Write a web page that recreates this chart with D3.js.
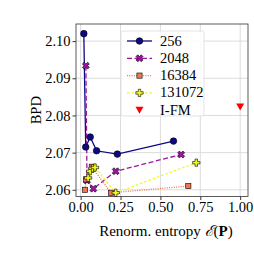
<!DOCTYPE html>
<html lang="en">
  <head>
    <meta charset="utf-8">
    <title>BPD vs entropy</title>
    <script src="https://cdn.jsdelivr.net/npm/d3@7/dist/d3.min.js"></script>
    <style>
      body { margin: 0; background: #fff; }
    </style>
  </head>
  <body>
    <div id="chart"></div>
    <script>
      // series values: [renorm. entropy, BPD]
      const seriesNames = ["256", "2048", "16384", "131072"];
      const s256 = [[0.02, 2.1020], [0.032, 2.0715], [0.06, 2.0742], [0.10, 2.0705], [0.23, 2.0696], [0.582, 2.0731]];
      const s2048 = [[0.033, 2.0934], [0.04, 2.0625], [0.08, 2.0603], [0.22, 2.0650], [0.63, 2.0695]];
      const s16384 = [[0.028, 2.0600], [0.035, 2.0628], [0.07, 2.0662], [0.19, 2.0592], [0.675, 2.0610]];
      const s131072 = [[0.047, 2.0632], [0.06, 2.0650], [0.075, 2.0658], [0.09, 2.0660], [0.22, 2.0592], [0.725, 2.0673]];
      const ifm = [[1.0, 2.0823]];
      const xTicks = [0.00, 0.25, 0.50, 0.75, 1.00];
      const yTicks = [2.06, 2.07, 2.08, 2.09, 2.10];

      const FONT = '"Liberation Serif", "Times New Roman", "DejaVu Serif", serif';
      const W = 254, H = 254;
      const margin = { top: 24, right: 6, bottom: 57.5, left: 76 };
      const width = W - margin.left - margin.right,
            height = H - margin.top - margin.bottom;

      const svg = d3.select("#chart").append("svg")
          .attr("width", W).attr("height", H)
          .attr("font-family", FONT);
      const g = svg.append("g")
          .attr("transform", `translate(${margin.left}, ${margin.top})`);

      const x = d3.scaleLinear().domain([-0.029, 1.049]).range([0, width]);
      const y = d3.scaleLinear().domain([2.0582, 2.1046]).range([height, 0]);

      // grid
      g.append("g").selectAll("line").data(xTicks).join("line")
          .attr("x1", d => x(d)).attr("x2", d => x(d))
          .attr("y1", 0).attr("y2", height)
          .attr("stroke", "#dcdcdc").attr("stroke-width", 1);
      g.append("g").selectAll("line").data(yTicks).join("line")
          .attr("y1", d => y(d)).attr("y2", d => y(d))
          .attr("x1", 0).attr("x2", width)
          .attr("stroke", "#dcdcdc").attr("stroke-width", 1);

      const styles = [
          { data: s256, color: "#0d0887", dash: null, marker: "circle" },
          { data: s2048, color: "#9c179e", dash: "5,2.5", marker: "x" },
          { data: s16384, color: "#ed7953", dash: "1,1.3", marker: "square" },
          { data: s131072, color: "#f0f921", dash: "2.5,2", marker: "plus" }
      ];

      const line = d3.line().x(d => x(d[0])).y(d => y(d[1]));

      function drawMarker(sel, kind, color) {
          if (kind === "circle") {
              sel.append("circle").attr("r", 3.3)
                  .attr("fill", color).attr("stroke", "#000").attr("stroke-width", 0.6);
          } else if (kind === "square") {
              sel.append("rect").attr("x", -2.6).attr("y", -2.6)
                  .attr("width", 5.2).attr("height", 5.2)
                  .attr("fill", color).attr("stroke", "#000").attr("stroke-width", 0.6);
          } else if (kind === "x") {
              sel.append("path")
                  .attr("d", d3.symbol(d3.symbolCross, 30)())
                  .attr("transform", "rotate(45)")
                  .attr("fill", color).attr("stroke", "#000").attr("stroke-width", 0.6);
          } else if (kind === "plus") {
              sel.append("path")
                  .attr("d", d3.symbol(d3.symbolCross, 30)())
                  .attr("fill", color).attr("stroke", "#000").attr("stroke-width", 0.6);
          } else if (kind === "tri") {
              sel.append("path")
                  .attr("d", "M-4,-3.5L4,-3.5L0,3.5Z")
                  .attr("fill", color);
          }
      }

      styles.forEach(s => {
          g.append("path").datum(s.data)
              .attr("fill", "none").attr("stroke", s.color)
              .attr("stroke-width", 1.3)
              .attr("stroke-dasharray", s.dash)
              .attr("d", line);
      });
      styles.forEach(s => {
          g.append("g").selectAll("g").data(s.data).join("g")
              .attr("transform", d => `translate(${x(d[0])}, ${y(d[1])})`)
              .each(function() { drawMarker(d3.select(this), s.marker, s.color); });
      });
      g.append("g").selectAll("g").data(ifm).join("g")
          .attr("transform", d => `translate(${x(d[0])}, ${y(d[1])})`)
          .each(function() { drawMarker(d3.select(this), "tri", "#ff0000"); });

      // axes
      const xAxis = g.append("g").attr("transform", `translate(0, ${height})`)
          .call(d3.axisBottom(x).tickValues(xTicks).tickFormat(d3.format(".2f")).tickSize(3.5).tickPadding(2));
      const yAxis = g.append("g")
          .call(d3.axisLeft(y).tickValues(yTicks).tickFormat(d3.format(".2f")).tickSize(3.5).tickPadding(2));
      [xAxis, yAxis].forEach(a => {
          a.attr("font-family", FONT).attr("font-size", 14.5);
          a.select(".domain").remove();
          a.selectAll("text").attr("fill", "#000");
          a.selectAll("line").attr("stroke", "#000").attr("stroke-width", 0.8);
      });

      g.append("rect").attr("width", width).attr("height", height)
          .attr("fill", "none").attr("stroke", "#333").attr("stroke-width", 0.8);

      // axis labels
      svg.append("text")
          .attr("transform", `translate(41, ${margin.top + height / 2}) rotate(-90)`)
          .attr("text-anchor", "middle").attr("font-size", 14.5)
          .text("BPD");
      const xl = svg.append("text")
          .attr("x", margin.left + width / 2 + 4).attr("y", 236)
          .attr("text-anchor", "middle").attr("font-size", 15);
      xl.append("tspan").text("Renorm. entropy ");
      xl.append("tspan").text("\u2130").style("font-style", "italic");
      xl.append("tspan").text("(");
      xl.append("tspan").text("P").attr("font-weight", "bold");
      xl.append("tspan").text(")");

      // legend
      const leg = svg.append("g").attr("transform", "translate(121, 31)");
      leg.append("rect").attr("width", 83).attr("height", 85).attr("rx", 2)
          .attr("fill", "#fff").attr("fill-opacity", 0.85)
          .attr("stroke", "#ddd").attr("stroke-width", 0.8);
      const legItems = styles.map((s, i) => ({ name: seriesNames[i], s: s }))
          .concat([{ name: "I-FM", s: { color: "#ff0000", dash: null, marker: "tri", noLine: true } }]);
      legItems.forEach((it, i) => {
          const row = leg.append("g").attr("transform", `translate(0, ${10 + i * 17.3})`);
          if (!it.s.noLine) {
              row.append("line").attr("x1", 6).attr("x2", 31)
                  .attr("stroke", it.s.color).attr("stroke-width", 1.3)
                  .attr("stroke-dasharray", it.s.dash);
          }
          const m = row.append("g").attr("transform", "translate(18.5, 0)");
          drawMarker(m, it.s.marker, it.s.color);
          row.append("text").attr("x", 39).attr("y", 4.5)
              .attr("font-size", 14.5).text(it.name);
      });
    </script>
  </body>
</html>
